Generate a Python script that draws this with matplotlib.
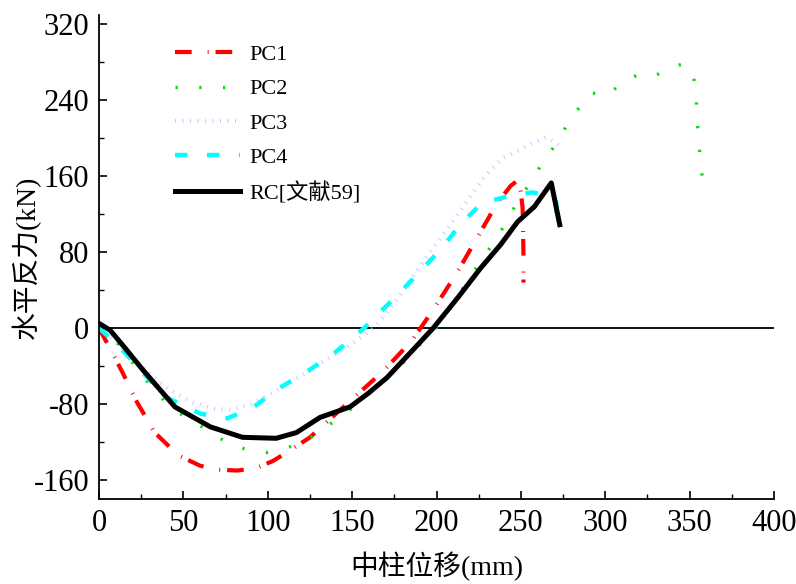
import matplotlib
matplotlib.use("Agg")
import matplotlib.pyplot as plt
from matplotlib.ticker import MultipleLocator

plt.rcParams["font.family"] = ["Liberation Serif", "Noto Sans CJK SC"]
plt.rcParams["lines.scale_dashes"] = False
plt.rcParams["axes.unicode_minus"] = False

# 水平反力 vs 中柱位移 curves
pc1_x = [0, 3, 6.5, 14, 22.5, 33, 47, 60, 70.5, 82, 93.6, 103, 113, 125, 133,
         150.5, 168, 185.5, 199, 212, 224, 236, 244, 249, 251, 251.5, 251.5]
pc1_y = [0, -10, -21, -47, -78, -110, -134, -145, -149, -150, -147, -140, -129,
         -115, -102, -74, -46, -13, 22, 58, 95, 132, 150, 157, 127, 79, 48]

pc2_x = [0, 5, 12.4, 21, 29, 38.5, 48, 61, 73.5, 86, 99.5, 113, 125.6, 137,
         148.7, 168, 178, 188, 198, 210, 220, 227.6, 235, 242, 248, 256, 263,
         269.6, 276, 282.7, 291.5, 301, 307, 320, 330.7, 337.8, 345.5, 352,
         353.8, 354.4, 355.5, 356.7, 358.5]
pc2_y = [0, -8, -18, -39, -57, -76, -90, -104, -118, -127, -131, -125, -115,
         -101, -86, -57, -41, -21, -4, 25, 55, 73, 94, 113, 134, 154, 175, 191,
         210, 228, 248, 245, 254, 268, 267, 274, 278, 270, 245, 220, 195, 170,
         145]

pc3_x = [0, 10, 20, 30, 42, 55, 68, 78, 90, 105, 120, 135, 150, 163, 175, 185,
         195, 205, 215, 221.6, 230, 239, 249.5, 257, 265, 270, 274]
pc3_y = [0, -15, -32, -48, -65, -78, -85, -86, -80, -66, -50, -33, -16, 0, 26,
         52, 77, 101, 126, 143, 163, 179, 188, 195, 201, 196, 190]

pc4_x = [0, 5, 15.4, 26, 40, 60, 76, 91, 105, 123, 139, 157, 178, 192, 203,
         214, 227, 240.6, 256.6, 266, 271, 271]
pc4_y = [0, -8, -26, -47, -73, -90, -95, -84, -65, -46, -27, 0, 37, 63, 84,
         109, 132, 138, 143, 140, 133, 104]

rc_x = [0, 6.5, 15, 26, 45, 66, 85, 105, 117, 131, 148.7, 160, 170.7, 186,
        198, 213, 226, 238, 248, 258, 268, 273]
rc_y = [5, -2, -20, -44, -83, -104, -115, -116, -110, -94, -83, -68, -52, -23,
        0, 33, 63, 88, 112, 128, 153, 109]

labels = ["PC1", "PC2", "PC3", "PC4", "RC[文献59]"]

fig = plt.figure(figsize=(7.96, 5.84), dpi=100)
ax = fig.add_axes([0.1244, 0.1455, 0.848, 0.829])

ax.axhline(0, color="black", lw=1.3, zorder=1)

ax.plot(pc1_x, pc1_y, color="#ff0000", lw=3,
        linestyle=(0, (12, 11.5, 0.7, 5)), label=labels[0])
ax.plot(pc2_x, pc2_y, color="#00e000", lw=2.4,
        linestyle=(0, (1.6, 15.5)), label=labels[1])
ax.plot(pc3_x, pc3_y, color="#c8c8ff", lw=3,
        linestyle=(0, (0.7, 4.7)), label=labels[2])
ax.plot(pc4_x, pc4_y, color="#00ffff", lw=3.2,
        linestyle=(0, (9, 14)), label=labels[3])
ax.plot(rc_x, rc_y, color="black", lw=3.6, label=labels[4])

ax.set_xlim(0, 400)
ax.set_ylim(-180, 330)
ax.xaxis.set_major_locator(MultipleLocator(50))
ax.xaxis.set_minor_locator(MultipleLocator(25))
ax.yaxis.set_major_locator(MultipleLocator(80))
ax.yaxis.set_minor_locator(MultipleLocator(40))

for side in ["top", "right"]:
    ax.spines[side].set_visible(False)
for side in ["left", "bottom"]:
    ax.spines[side].set_linewidth(1.3)

ax.tick_params(which="major", direction="in", length=6, width=1.2,
               labelsize=22, pad=7)
ax.tick_params(which="minor", direction="in", length=3.5, width=1.0)

ax.set_xlabel("中柱位移(mm)", fontsize=20, labelpad=10)
ax.set_ylabel("水平反力(kN)", fontsize=20)
ax.yaxis.set_label_coords(-0.086, 0.5)

ax.legend(loc="upper left", bbox_to_anchor=(0.195, 0.958),
          bbox_transform=fig.transFigure, frameon=False, fontsize=16,
          handlelength=2.9, handletextpad=0.45, labelspacing=0.62)

fig.savefig("out.png", dpi=100)
